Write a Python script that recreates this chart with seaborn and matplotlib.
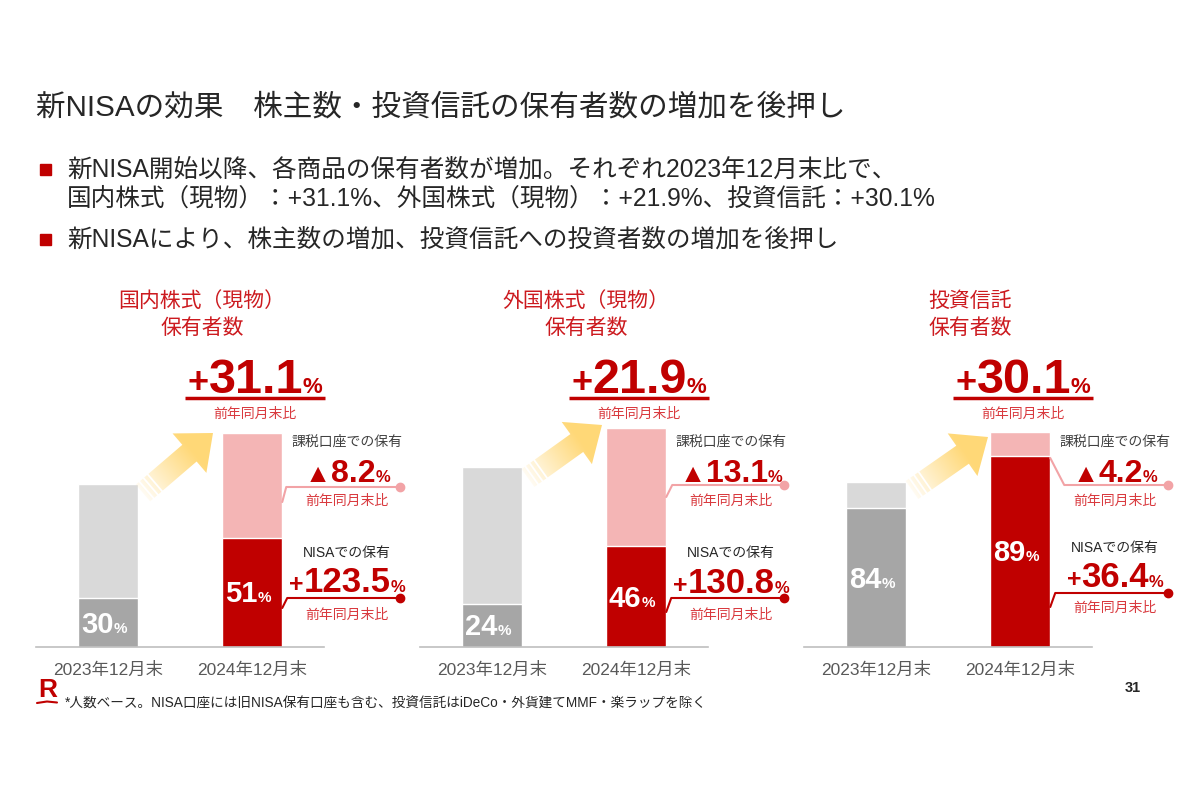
import numpy as np
import pandas as pd
import seaborn as sns
import matplotlib.pyplot as plt
from matplotlib.patches import Polygon, Rectangle

# --- data ---
periods = ['2023年12月末', '2024年12月末']
panel_titles = [('国内株式（現物）', '保有者数'), ('外国株式（現物）', '保有者数'), ('投資信託', '保有者数')]
# bar heights (relative units as drawn, 2023 / 2024)
total_2023 = [163, 180, 165]
total_2024 = [214, 219, 215]
# share held through NISA (%)
nisa_share_2023 = [30, 24, 84]
nisa_share_2024 = [51, 46, 89]
# year-on-year changes (%)
growth_total = ['31.1', '21.9', '30.1']
growth_taxable = ['8.2', '13.1', '4.2']      # decreases, shown with ▲
growth_nisa = ['123.5', '130.8', '36.4']

# --- colours ---
LIGHT_GRAY, DARK_GRAY = '#D9D9D9', '#A6A6A6'
PINK, RED = '#F4B5B5', '#C00000'
TITLE_RED, SUB_RED = '#CC1A1F', '#D93A3F'
TEXT = '#262626'

W, H = 1200, 800
panel_left = [36, 420, 804]
panel_w = 288
base_y = 647
ax_h = 230

sns.set_style('white')
plt.rcParams['font.family'] = ['Liberation Sans', 'Noto Sans CJK JP', 'DejaVu Sans']

fig = plt.figure(figsize=(12, 8), dpi=100)
fig.patch.set_facecolor('white')
renderer = fig.canvas.get_renderer()


def fx(x):
    return x / W


def fy(y):
    return 1 - y / H


def rich(x, y, parts, color, ha='center'):
    """Bold text made of pieces with different sizes, sharing one baseline (px coords)."""
    texts = []
    for s, size in parts:
        t = fig.text(0, fy(y), s, fontsize=size, fontweight='bold', color=color,
                     ha='left', va='baseline', zorder=10)
        texts.append(t)
    widths = [t.get_window_extent(renderer=renderer).width for t in texts]
    start = x - sum(widths) / 2 if ha == 'center' else x
    for t, w in zip(texts, widths):
        t.set_x(fx(start))
        start += w


# overlay for arrows, connectors and decorations (pixel coordinates)
ov = fig.add_axes([0, 0, 1, 1], zorder=5)
ov.set_xlim(0, W)
ov.set_ylim(H, 0)
ov.axis('off')
ov.patch.set_alpha(0)


def grad_arrow(tail, tip, sw=22, hw=52, hl=31):
    tail, tip = np.array(tail, float), np.array(tip, float)
    d = tip - tail
    L = np.hypot(*d)
    u = d / L
    n = np.array([-u[1], u[0]])
    se = tip - u * hl
    pts = [tail + n * sw / 2, se + n * sw / 2, se + n * hw / 2, tip,
           se - n * hw / 2, se - n * sw / 2, tail - n * sw / 2]
    poly = Polygon(pts, closed=True, facecolor='none', edgecolor='none')
    ov.add_patch(poly)
    xs, ys = [p[0] for p in pts], [p[1] for p in pts]
    x0, x1, y0, y1 = min(xs) - 2, max(xs) + 2, min(ys) - 2, max(ys) + 2
    X, Y = np.meshgrid(np.linspace(x0, x1, 200), np.linspace(y0, y1, 200))
    t = np.clip(((X - tail[0]) * u[0] + (Y - tail[1]) * u[1]) / L, 0, 1)
    img = np.zeros(X.shape + (4,))
    img[..., 0], img[..., 1], img[..., 2] = 1.0, 0.85, 0.47
    img[..., 3] = np.clip(0.1 + 1.3 * t, 0, 1)
    im = ov.imshow(img, extent=(x0, x1, y1, y0), origin='upper', interpolation='bilinear', zorder=2)
    im.set_clip_path(poly)
    for k in (0.05, 0.11, 0.17):
        c = tail + u * L * k
        a, b = c + n * (sw / 2 + 1), c - n * (sw / 2 + 1)
        ov.plot([a[0], b[0]], [a[1], b[1]], color='white', lw=1.3, zorder=3)
    ov.set_xlim(0, W)
    ov.set_ylim(H, 0)


arrow_tail = [(143, 493), (528, 478), (912, 490)]
arrow_tip = [(213, 433), (602, 425), (988, 437)]
tax_start = [502, 497, 458]
tax_line = [487, 485, 485]
tax_dx = [4, 6, 14]
nisa_start = [608, 612, 607]
nisa_line = [598, 598, 593]
nisa_base = [592, 593, 587]
nisa_label = [553, 553, 548]
nisa_sub = [615, 615, 608]

for p in range(3):
    left = panel_left[p]
    df = pd.DataFrame({
        'period': periods,
        'total': [total_2023[p], total_2024[p]],
        'share': [nisa_share_2023[p], nisa_share_2024[p]],
    })
    df['nisa'] = df['total'] * df['share'] / 100

    ax = fig.add_axes([fx(left), fy(base_y), panel_w / W, ax_h / H])
    sns.barplot(data=df, x='period', y='total', hue='period', palette=[LIGHT_GRAY, PINK],
                width=0.42, saturation=1, errorbar=None, legend=False, ax=ax)
    sns.barplot(data=df, x='period', y='nisa', hue='period', palette=[DARK_GRAY, RED],
                width=0.42, saturation=1, errorbar=None, legend=False, ax=ax)
    ax.set_xlim(-0.5, 1.5)
    ax.set_ylim(0, ax_h)
    ax.set_xlabel('')
    ax.set_ylabel('')
    ax.set_yticks([])
    for s in ['top', 'left', 'right']:
        ax.spines[s].set_visible(False)
    ax.spines['bottom'].set_color('#BFBFBF')
    ax.spines['bottom'].set_linewidth(1.2)
    ax.tick_params(axis='x', length=0, pad=11, labelsize=12.5, labelcolor='#595959')
    ax.patch.set_alpha(0)

    # share labels inside the NISA segment
    for i, row in df.iterrows():
        dx, dy = ax.transData.transform((i, row['nisa'] / 2))
        rich(dx - 4, H - dy + 10, [(f"{row['share']}", 21), ('%', 11)], 'white')

    cx_bar2 = ax.transData.transform((1, 0))[0]
    r_bar2 = ax.transData.transform((1.21, 0))[0]

    # panel title
    fig.text(fx(cx_bar2 - 50), fy(301), panel_titles[p][0], fontsize=15, color=TITLE_RED, ha='center', va='center')
    fig.text(fx(cx_bar2 - 50), fy(328), panel_titles[p][1], fontsize=15, color=TITLE_RED, ha='center', va='center')

    # headline growth
    rich(cx_bar2 + 3, 393, [('+', 26), (growth_total[p], 35), ('%', 16)], RED)
    ov.plot([cx_bar2 - 67, cx_bar2 + 73], [398, 398], color=RED, lw=2.5, solid_capstyle='butt')
    fig.text(fx(cx_bar2 + 3), fy(414), '前年同月末比', fontsize=10, color=SUB_RED, ha='center', va='center')

    grad_arrow(arrow_tail[p], arrow_tip[p])

    # taxable account
    cx = r_bar2 + 65
    fig.text(fx(cx), fy(442), '課税口座での保有', fontsize=10, color='#404040', ha='center', va='center')
    rich(cx, 482, [('▲', 19), (growth_taxable[p], 23), ('%', 12)], RED)
    ov.plot([r_bar2, r_bar2 + tax_dx[p], r_bar2 + 118], [tax_start[p], tax_line[p], tax_line[p]],
            color='#F2A3A6', lw=1.5)
    ov.plot([r_bar2 + 118], [tax_line[p]], 'o', color='#F2A3A6', ms=6)
    fig.text(fx(cx), fy(501), '前年同月末比', fontsize=10, color=SUB_RED, ha='center', va='center')

    # NISA account
    fig.text(fx(cx), fy(nisa_label[p]), 'NISAでの保有', fontsize=10, color='#262626', ha='center', va='center')
    rich(cx, nisa_base[p], [('+', 18), (growth_nisa[p], 25), ('%', 12)], RED)
    ov.plot([r_bar2, r_bar2 + 5, r_bar2 + 118], [nisa_start[p], nisa_line[p], nisa_line[p]],
            color=RED, lw=1.5)
    ov.plot([r_bar2 + 118], [nisa_line[p]], 'o', color=RED, ms=6)
    fig.text(fx(cx), fy(nisa_sub[p]), '前年同月末比', fontsize=10, color=SUB_RED, ha='center', va='center')

# --- header ---
fig.text(fx(36), fy(107), '新NISAの効果　株主数・投資信託の保有者数の増加を後押し',
         fontsize=21.3, color=TEXT, ha='left', va='center')
for y in (170, 240):
    ov.add_patch(Rectangle((40, y - 6), 11, 11, color=RED, zorder=4))
fig.text(fx(67), fy(170), '新NISA開始以降、各商品の保有者数が増加。それぞれ2023年12月末比で、',
         fontsize=17.7, color=TEXT, ha='left', va='center')
fig.text(fx(67), fy(199), '国内株式（現物）：+31.1%、外国株式（現物）：+21.9%、投資信託：+30.1%',
         fontsize=17.7, color=TEXT, ha='left', va='center')
fig.text(fx(67), fy(240), '新NISAにより、株主数の増加、投資信託への投資者数の増加を後押し',
         fontsize=17.7, color=TEXT, ha='left', va='center')

# --- footer ---
fig.text(fx(38), fy(697), 'R', fontsize=19, fontweight='bold', color=RED, ha='left', va='baseline')
ov.plot([37, 47, 57], [703, 701.5, 702.5], color=RED, lw=1.5)
fig.text(fx(65), fy(704), '*人数ベース。NISA口座には旧NISA保有口座も含む、投資信託はiDeCo・外貨建てMMF・楽ラップを除く',
         fontsize=9.8, color=TEXT, ha='left', va='center')
fig.text(fx(1133), fy(688), '31', fontsize=10.5, fontweight='bold', color=TEXT, ha='center', va='center')

fig.savefig('out.png', dpi=100, facecolor='white')
